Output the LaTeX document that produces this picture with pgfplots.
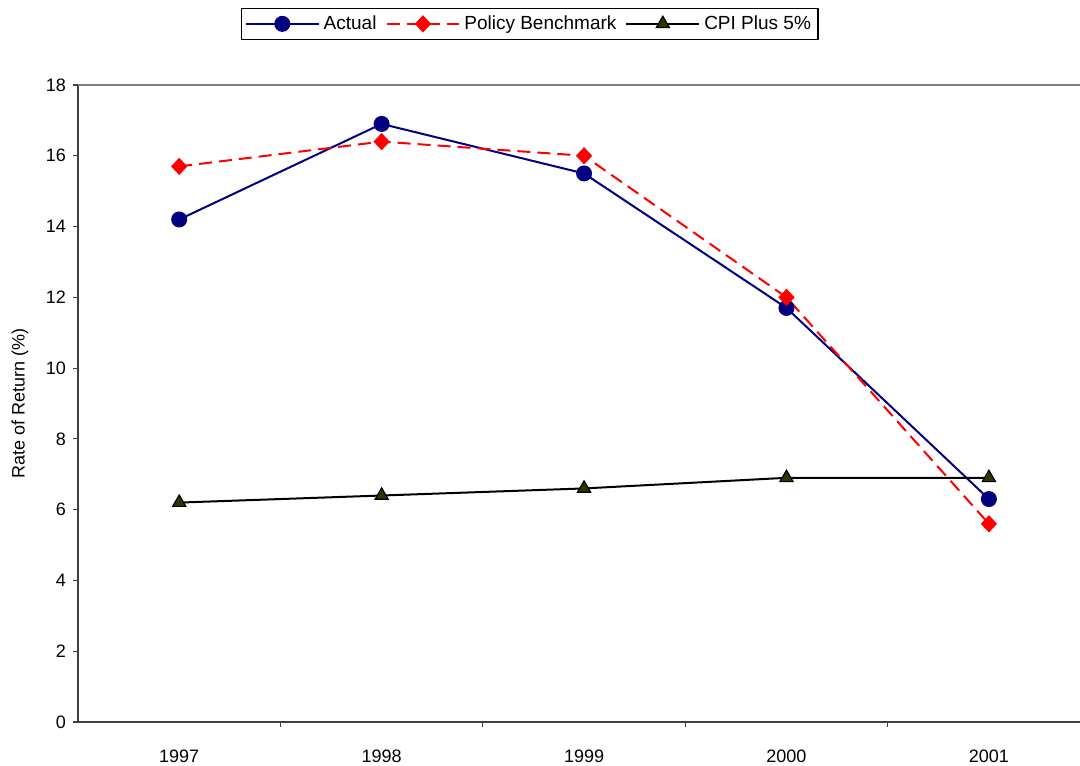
\documentclass[border=0pt]{standalone}
\usepackage{pgfplots}
\pgfplotsset{compat=1.18}
\usepackage{fontspec}
\setmainfont{Liberation Sans}
\definecolor{navyc}{HTML}{000080}
\definecolor{olivec}{HTML}{333300}
\definecolor{axc}{HTML}{404040}
\begin{document}
\begin{tikzpicture}
\begin{axis}[
  name=ax,
  at={(0,0)}, anchor=south west,
  scale only axis,
  width=501pt, height=318.5pt,
  xmin=-0.5, xmax=4.45,
  ymin=0, ymax=18,
  ytick={0,2,...,18},
  xtick={0,1,2,3,4},
  xticklabels={1997,1998,1999,2000,2001},
  axis x line*=bottom,
  axis y line*=left,
  axis line style={axc, line width=0.9pt, -},
  x tick style={draw=none},
  y tick style={axc, line width=0.6pt},
  tick align=outside,
  major tick length=2.5pt,
  extra x ticks={0.5,1.5,2.5,3.5},
  extra x tick labels={},
  extra x tick style={x tick style={draw=axc, line width=0.6pt}, major tick length=2.5pt},
  tick label style={font=\fontsize{9}{10}\selectfont, /pgf/number format/assume math mode=true},
  xticklabel style={yshift=-8pt},
  ylabel={Rate of Return (\%)},
  ylabel style={at={(axis description cs:-0.0579,0.5)}, anchor=center, font=\fontsize{9}{10}\selectfont},
  legend columns=3,
  legend style={at={(axis description cs:0.451,1.096)}, anchor=center, draw=black, line width=0.6pt,
    font=\fontsize{9.5}{11}\selectfont, inner sep=1.5pt,
    /tikz/every even column/.append style={column sep=2.5pt}},
  legend image code/.code={\draw[mark repeat=2,mark phase=2] plot coordinates {(0cm,0cm) (0.64cm,0cm) (1.28cm,0cm)};},
  clip=false,
]
\draw[gray, line width=0.9pt] (rel axis cs:0,1) -- (rel axis cs:1,1);
\addplot[navyc, line width=1pt, mark=*, mark size=3.5pt, mark options={fill=navyc, draw=navyc, solid}]
  coordinates {(0,14.2) (1,16.9) (2,15.5) (3,11.7) (4,6.3)};
\addlegendentry{Actual}
\addplot[red, line width=1pt, dash pattern=on 6.5pt off 3.5pt, mark=diamond*, mark size=3.6pt, mark options={fill=red, draw=red, solid, xscale=1.25}]
  coordinates {(0,15.7) (1,16.4) (2,16.0) (3,12.0) (4,5.6)};
\addlegendentry{Policy Benchmark}
\addplot[black, line width=1pt, mark=triangle*, mark size=3.8pt, mark options={fill=olivec, draw=black, solid, line width=0.6pt}]
  coordinates {(0,6.2) (1,6.4) (2,6.6) (3,6.9) (4,6.9)};
\addlegendentry{CPI Plus 5\%}
\end{axis}
\pgfresetboundingbox
\path[use as bounding box] ([shift={(-39pt,-21.5pt)}]ax.south west) rectangle ([shift={(0pt,42.5pt)}]ax.north east);
\end{tikzpicture}
\end{document}
